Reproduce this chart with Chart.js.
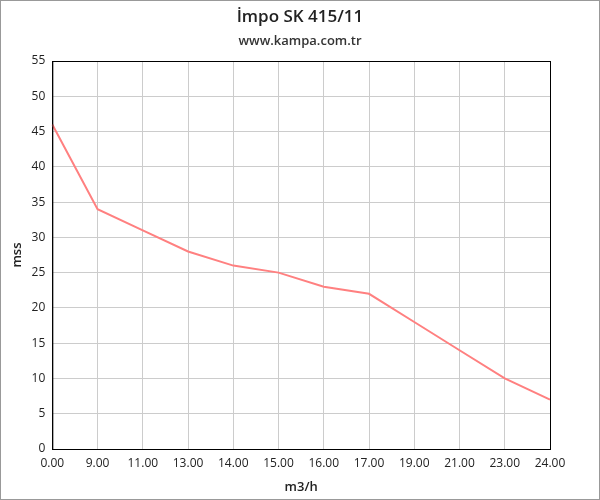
<!DOCTYPE html>
<html>
<head>
<meta charset="utf-8">
<script src="https://cdn.jsdelivr.net/npm/chart.js@4/dist/chart.umd.min.js"></script>
<style>
  body { margin: 0; background: #fff; }
  #wrap { width: 598px; height: 498px; border: 1px solid #999; }
</style>
</head>
<body>
<div id="wrap"><canvas id="chart" width="598" height="498"></canvas></div>
<script>
const flowLabels = ["0.00", "9.00", "11.00", "13.00", "14.00", "15.00", "16.00", "17.00", "19.00", "21.00", "23.00", "24.00"];
const headValues = [46, 34, 31, 28, 26, 25, 23, 22, 18, 14, 10, 7];
const yTicks = [0, 5, 10, 15, 20, 25, 30, 35, 40, 45, 50, 55];

// black frame round the plot area
const frame = {
  id: "frame",
  afterDraw(chart) {
    const { ctx, chartArea: a } = chart;
    ctx.save();
    ctx.strokeStyle = "#000";
    ctx.lineWidth = 1;
    ctx.strokeRect(a.left + 0.5, a.top + 0.5, a.right - a.left, a.bottom - a.top);
    ctx.restore();
  },
};

Chart.defaults.font.family = "'Open Sans', sans-serif";
Chart.defaults.color = "#222";

new Chart(document.getElementById("chart").getContext("2d"), {
  type: "line",
  data: {
    labels: flowLabels,
    datasets: [
      {
        label: "İmpo SK 415/11",
        data: headValues,
        borderColor: "#ff8080",
        backgroundColor: "#ff8080",
        borderWidth: 2,
        pointRadius: 0,
        tension: 0,
      },
    ],
  },
  options: {
    responsive: false,
    animation: false,
    layout: { padding: { left: 8, right: 8, top: 0, bottom: 0 } },
    plugins: {
      legend: { display: false },
      tooltip: { enabled: false },
      title: {
        display: true,
        text: "İmpo SK 415/11",
        font: { size: 17, weight: "600" },
        color: "#222",
        padding: { top: 6, bottom: 2 },
      },
      subtitle: {
        display: true,
        text: "www.kampa.com.tr",
        font: { size: 13, weight: "600" },
        color: "#333",
        padding: { top: 4, bottom: 12 },
      },
    },
    scales: {
      x: {
        type: "category",
        offset: false,
        grid: { color: "#ccc", drawTicks: false },
        border: { color: "#000" },
        ticks: { padding: 7, maxRotation: 0, autoSkip: false, font: { size: 12 } },
        title: { display: true, text: "m3/h", font: { size: 13, weight: "600" }, padding: { top: 2 } },
      },
      y: {
        min: 0,
        max: 55,
        afterBuildTicks(axis) {
          axis.ticks = yTicks.map((v) => ({ value: v }));
        },
        grid: { color: "#ccc", drawTicks: false },
        border: { color: "#000" },
        ticks: { padding: 7, font: { size: 12 } },
        title: { display: true, text: "mss", font: { size: 13, weight: "600" }, padding: { top: 0, bottom: 0 } },
      },
      // empty right margin so the plot ends where the reference does
      yRight: {
        position: "right",
        min: 0,
        max: 55,
        grid: { drawOnChartArea: false, drawTicks: false },
        border: { display: false },
        ticks: { display: false },
        afterFit(axis) {
          axis.width = 41;
        },
      },
    },
  },
  plugins: [frame],
});
</script>
</body>
</html>
